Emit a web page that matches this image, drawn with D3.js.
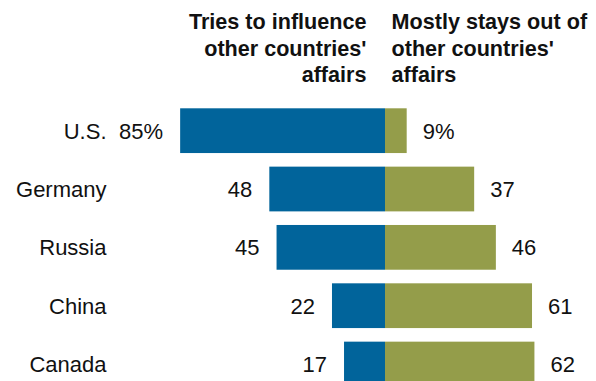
<!DOCTYPE html>
<html>
<head>
<meta charset="utf-8">
<script src="https://cdn.jsdelivr.net/npm/d3@7"></script>
<style>
  html, body { margin: 0; padding: 0; background: #fff; }
  svg { display: block; }
  text { font-family: "Liberation Sans", Arial, sans-serif; fill: #111; }
</style>
</head>
<body>
<div id="chart"></div>
<script>
// Share saying each country tries to influence / mostly stays out of others' affairs
const countries = ["U.S.", "Germany", "Russia", "China", "Canada"];
const influence = [85, 48, 45, 22, 17];
const staysOut = [9, 37, 46, 61, 62];
const leftHeading = ["Tries to influence", "other countries'", "affairs"];
const rightHeading = ["Mostly stays out of", "other countries'", "affairs"];

const width = 596, height = 381;
const centerX = 385;

const svg = d3.select("#chart").append("svg")
  .attr("width", width)
  .attr("height", height);

const x = d3.scaleLinear().domain([0, 100]).range([0, 241]);
const y = d3.scaleBand()
  .domain(countries)
  .range([108.3, 386.4])
  .paddingInner(0.233)
  .paddingOuter(0);

const rows = countries.map((c, i) => ({ country: c, left: influence[i], right: staysOut[i], first: i === 0 }));

// Column headings
const headingLines = [29, 55.5, 82];
svg.append("g").selectAll("text")
  .data(leftHeading)
  .join("text")
  .attr("x", 366.5)
  .attr("y", (d, i) => headingLines[i])
  .attr("text-anchor", "end")
  .style("font-weight", "bold")
  .style("font-size", "21.6px")
  .text(d => d);

svg.append("g").selectAll("text")
  .data(rightHeading)
  .join("text")
  .attr("x", 391.5)
  .attr("y", (d, i) => headingLines[i])
  .attr("text-anchor", "start")
  .style("font-weight", "bold")
  .style("font-size", "21.6px")
  .text(d => d);

const row = svg.append("g").selectAll("g")
  .data(rows)
  .join("g");

// Diverging bars around the center line
row.append("rect")
  .attr("x", d => centerX - x(d.left))
  .attr("y", d => y(d.country))
  .attr("width", d => x(d.left))
  .attr("height", y.bandwidth())
  .attr("fill", "#01649B");

row.append("rect")
  .attr("x", centerX)
  .attr("y", d => y(d.country))
  .attr("width", d => x(d.right))
  .attr("height", y.bandwidth())
  .attr("fill", "#949D4A");

const mid = d => y(d.country) + y.bandwidth() / 2 + 8;

// Country names
row.append("text")
  .attr("x", 106.5)
  .attr("y", mid)
  .attr("text-anchor", "end")
  .style("font-size", "22px")
  .text(d => d.country);

// Value labels
row.append("text")
  .attr("x", d => centerX - x(d.left) - 17)
  .attr("y", mid)
  .attr("text-anchor", "end")
  .style("font-size", "22px")
  .text(d => d.left + (d.first ? "%" : ""));

row.append("text")
  .attr("x", d => centerX + x(d.right) + 16)
  .attr("y", mid)
  .attr("text-anchor", "start")
  .style("font-size", "22px")
  .text(d => d.right + (d.first ? "%" : ""));
</script>
</body>
</html>
